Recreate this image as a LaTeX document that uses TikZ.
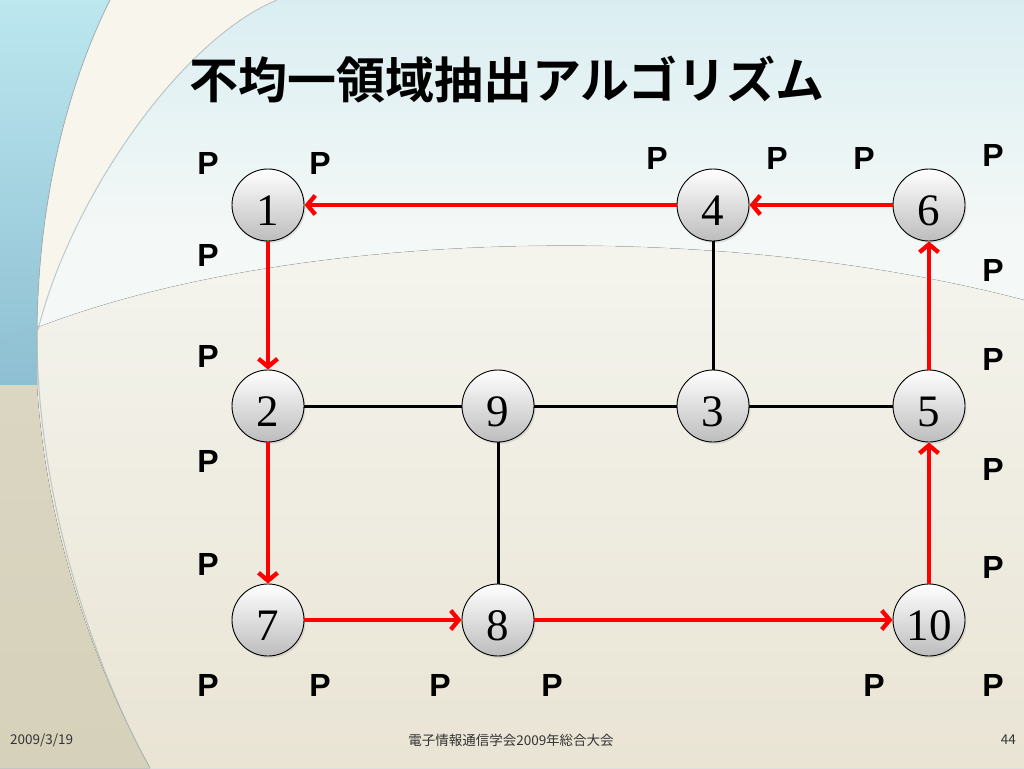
\documentclass[tikz,border=0pt]{standalone}
\usepackage{fontspec}
\setmainfont{Liberation Serif}
\newfontfamily\pfont{Liberation Sans}
\newfontfamily\cjk{Noto Sans CJK JP}[BoldFont={Noto Sans CJK JP Bold}]
\usetikzlibrary{arrows.meta,shadows}
\definecolor{bgtop}{HTML}{DAEEF2}
\definecolor{bgmid}{HTML}{F4F8F6}
\definecolor{bglow}{HTML}{F5F5EF}
\definecolor{bgbot}{HTML}{E9E4D4}
\definecolor{tealA}{HTML}{BCE7EF}
\definecolor{tealM}{HTML}{E2F3F6}
\definecolor{tealB}{HTML}{8DBFD2}
\definecolor{cream}{HTML}{F8F5EC}
\definecolor{sandA}{HTML}{DAD6C2}
\definecolor{sandB}{HTML}{D5D1BA}
\definecolor{arcgray}{HTML}{A9B4B4}
\definecolor{arrred}{HTML}{FF0000}
\tikzset{
  vtx/.style={circle, draw=black, line width=0.9pt, minimum size=72pt, inner sep=0pt,
    top color=white, bottom color=black!26,
    drop shadow={opacity=0.2, shadow xshift=1.5pt, shadow yshift=-2pt},
    font=\fontsize{45}{45}\selectfont, text height=41pt, text depth=0pt},
  plab/.style={font=\pfont\bfseries\fontsize{32}{32}\selectfont, inner sep=0pt},
  redarr/.style={draw=arrred, line width=4.3pt, -{Straight Barb[length=8pt,width=19pt]}},
  blk/.style={draw=black, line width=3pt},
  foot/.style={font=\cjk\fontsize{13.5}{14}\selectfont, text=black!80, inner sep=0pt},
  bgarc/.style={draw=arcgray, line width=1pt, opacity=0.7}
}
\begin{document}
\begin{tikzpicture}[x=1pt,y=-1pt]
\useasboundingbox (0,0) rectangle (1024,768);
% background
\fill[top color=bgtop, bottom color=bgmid] (0,0) rectangle (1024,230);
\fill[bgmid] (0,229) rectangle (1024,400);
\fill[top color=bglow, bottom color=bgbot] (0,343) .. controls (250,230) and (700,215) .. (1024,300) -- (1024,768) -- (0,768) -- cycle;
\fill[cream] (110,0) .. controls (60,100) and (38,220) .. (38,322) .. controls (70,200) and (180,40) .. (277,0) -- cycle;
\fill[top color=tealA, middle color=tealM, bottom color=tealB] (0,0) -- (110,0) .. controls (60,100) and (38,220) .. (37,330) -- (37,385) -- (0,385) -- cycle;
\fill[top color=sandA, bottom color=sandB] (0,385) -- (37,385) .. controls (45,520) and (90,660) .. (150,768) -- (0,768) -- cycle;
\draw[bgarc] (110,0) .. controls (60,100) and (38,220) .. (37,330) .. controls (36,480) and (85,650) .. (150,768);
\draw[bgarc] (277,0) .. controls (180,40) and (70,200) .. (38,330);
\draw[draw=arcgray, line width=0.8pt, opacity=0.25] (0,343) .. controls (250,230) and (700,215) .. (1024,300);
% title
\node[font=\cjk\bfseries\fontsize{49}{49}\selectfont, inner sep=0pt] (title) at (507,80) {不均一領域抽出アルゴリズム};
% vertices
\node[vtx] (n1) at (268,205) {1};
\node[vtx] (n4) at (713,205) {4};
\node[vtx] (n6) at (929,205) {6};
\node[vtx] (n2) at (268,406) {2};
\node[vtx] (n9) at (498,406) {9};
\node[vtx] (n3) at (713,406) {3};
\node[vtx] (n5) at (929,406) {5};
\node[vtx] (n7) at (268,620) {7};
\node[vtx] (n8) at (498,620) {8};
\node[vtx] (n10) at (929,620) {10};
% black edges
\draw[blk] (n4) -- (n3);
\draw[blk] (n2) -- (n9);
\draw[blk] (n9) -- (n3);
\draw[blk] (n3) -- (n5);
\draw[blk] (n9) -- (n8);
% red path
\draw[redarr] (n6) -- (n4);
\draw[redarr] (n4) -- (n1);
\draw[redarr] (n1) -- (n2);
\draw[redarr] (n2) -- (n7);
\draw[redarr] (n7) -- (n8);
\draw[redarr] (n8) -- (n10);
\draw[redarr] (n10) -- (n5);
\draw[redarr] (n5) -- (n6);
% P labels
\node[plab] (pa1) at (208,163) {P};
\node[plab] (pa2) at (320,163) {P};
\node[plab] (pa3) at (657,158) {P};
\node[plab] (pa4) at (777,158) {P};
\node[plab] (pa5) at (864,158) {P};
\node[plab] (pa6) at (993,155) {P};
\node[plab] (pl1) at (208,255) {P};
\node[plab] (pl2) at (208,356) {P};
\node[plab] (pl3) at (208,461) {P};
\node[plab] (pl4) at (208,564) {P};
\node[plab] (pr1) at (993,270) {P};
\node[plab] (pr2) at (993,359) {P};
\node[plab] (pr3) at (993,469) {P};
\node[plab] (pr4) at (993,567) {P};
\node[plab] (pb1) at (208,685) {P};
\node[plab] (pb2) at (320,685) {P};
\node[plab] (pb3) at (440,685) {P};
\node[plab] (pb4) at (552,685) {P};
\node[plab] (pb5) at (874,685) {P};
\node[plab] (pb6) at (993,685) {P};
% footer
\node[foot, anchor=west] (date) at (10,740) {2009/3/19};
\node[foot] (conf) at (511,740) {電子情報通信学会2009年総合大会};
\node[foot, anchor=east] (page) at (1016,740) {44};
\end{tikzpicture}
\end{document}
